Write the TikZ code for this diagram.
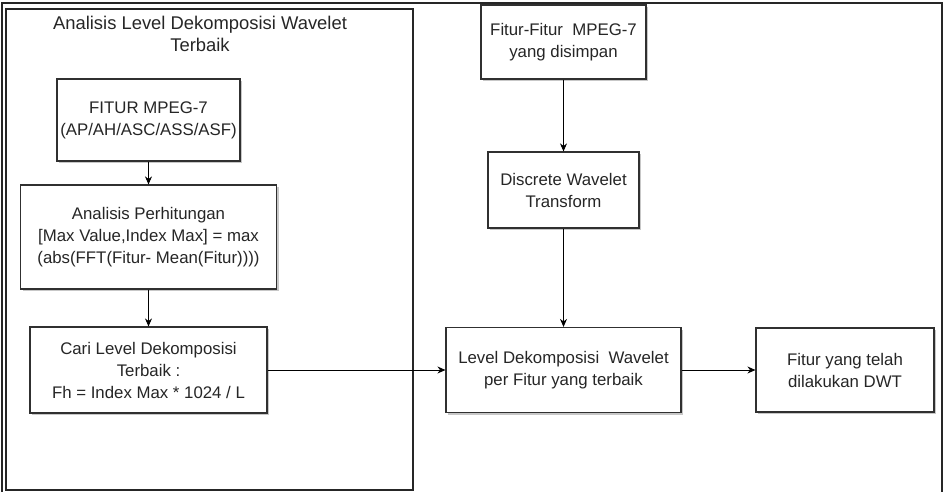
\documentclass[tikz,border=0pt]{standalone}
\usepackage{fontspec}
\setmainfont{Liberation Sans}
\usepackage[dvipsnames]{xcolor}
\usetikzlibrary{shadows,arrows.meta}
\definecolor{linegray}{HTML}{303030}

\begin{document}
\begin{tikzpicture}[x=1pt,y=-1pt,->,>={Stealth[length=8pt,width=7pt]},thick,
    box node/.style={rectangle,draw=linegray,line width=1.2pt,fill=white,align=center,inner sep=0pt,
        font=\fontsize{16.8}{22}\selectfont,text=black!85,
        drop shadow={shadow xshift=2pt,shadow yshift=-2pt,fill=black!22,opacity=1}},
    frame/.style={-,draw=black!85,line width=1.6pt}]

            \useasboundingbox (0,0) rectangle (947,492);

            % outer frame and left panel
            \draw[frame] (2,492) -- (2,3) -- (942,3) -- (942,492);
            \draw[frame,line width=1.2pt] (6,9) rectangle (413,490);
            \node[align=center,font=\fontsize{18.4}{22}\selectfont,text=black!85] (title) at (200,34) {Analisis Level Dekomposisi Wavelet\\Terbaik};

            \node[box node,minimum width=183pt,minimum height=82pt] (1) at (148.5,120) {FITUR MPEG-7\\(AP/AH/ASC/ASS/ASF)};
            \node[box node,minimum width=256pt,minimum height=104pt,node distance=117pt] (2) [below of = 1] {Analisis Perhitungan\\{}[Max Value,Index Max] = max\\(abs(FFT(Fitur- Mean(Fitur))))};
            \node[box node,minimum width=237pt,minimum height=86pt,node distance=133pt] (3) [below of = 2] {Cari Level Dekomposisi\\Terbaik :\\Fh = Index Max * 1024 / L};
            \node[box node,minimum width=235pt,minimum height=85pt,node distance=415pt] (7) [right of = 3] {Level Dekomposisi\ \ Wavelet\\per Fitur yang terbaik};
            \node[box node,minimum width=151pt,minimum height=76pt,node distance=180pt] (6) [above of = 7] {Discrete Wavelet\\Transform};
            \node[box node,minimum width=165pt,minimum height=74pt,node distance=148pt] (5) [above of = 6] {Fitur-Fitur\ \ MPEG-7\\yang disimpan};
            \node[box node,minimum width=178pt,minimum height=84pt,node distance=281.5pt] (8) [right of = 7] {Fitur yang telah\\dilakukan DWT};

            \draw (1) to (2);
            \draw (2) to (3);
            \draw (3) to (7);
            \draw (5) to (6);
            \draw (6) to (7);
            \draw (7) to (8);

\end{tikzpicture}
\end{document}
